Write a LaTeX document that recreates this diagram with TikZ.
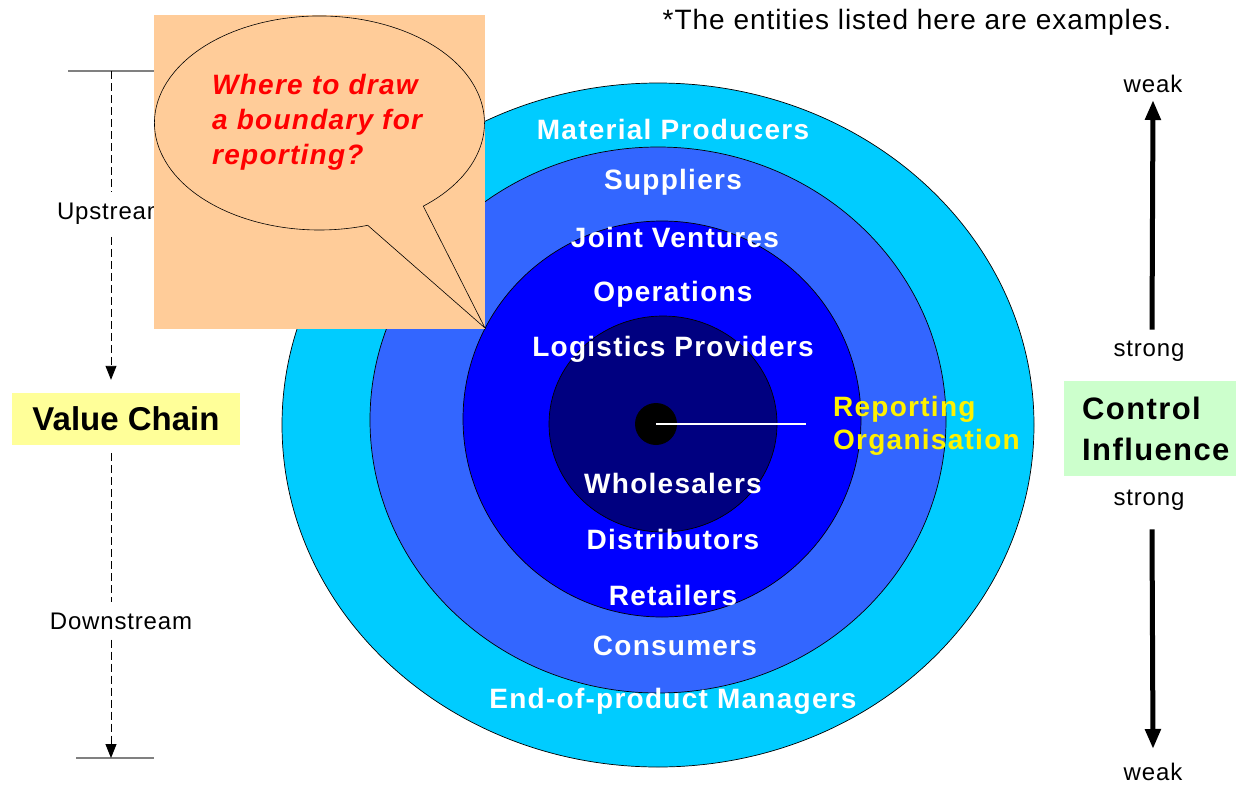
\documentclass[tikz,border=0pt]{standalone}
\usepackage{fontspec}
\setmainfont{Liberation Sans}
\newfontfamily\spaced[LetterSpace=4.5]{Liberation Sans}
\newfontfamily\spacedlight[LetterSpace=3.5]{Liberation Sans}
\usetikzlibrary{arrows.meta}
\definecolor{ringA}{HTML}{00CCFF}
\definecolor{ringB}{HTML}{3366FF}
\definecolor{ringC}{HTML}{0000FF}
\definecolor{ringD}{HTML}{000080}
\definecolor{peach}{HTML}{FFCC99}
\definecolor{paleyellow}{HTML}{FFFF99}
\definecolor{palegreen}{HTML}{CCFFCC}
\definecolor{hline}{HTML}{808080}
\tikzset{
  ring/.style={draw=black, line width=0.7pt},
  ringlabel/.style={text=white, font=\spaced\fontsize{28}{32}\selectfont\bfseries, inner sep=0pt},
  smalltext/.style={font=\spacedlight\fontsize{24}{28}\selectfont, inner sep=2pt},
  dashconn/.style={dash pattern=on 8pt off 4pt, line width=0.9pt, -{Triangle[width=11pt,length=14pt]}},
  dashplain/.style={dash pattern=on 8pt off 4pt, line width=0.9pt},
  thickarrow/.style={line width=5pt, -{Triangle[width=15pt,length=20pt]}},
  endline/.style={draw=hline, line width=1.5pt},
}
\begin{document}
\begin{tikzpicture}[x=1pt,y=-1pt]
\useasboundingbox (0,0) rectangle (1236,787);

% rings
\draw[ring, fill=ringA] (658,425) ellipse [x radius=376, y radius=342];
\draw[ring, fill=ringB] (658,420) ellipse [x radius=288, y radius=273];
\draw[ring, fill=ringC] (662,419) ellipse [x radius=199, y radius=198];
\draw[ring, fill=ringD] (663,424) ellipse [x radius=114, y radius=108];
\node[circle, fill=black, minimum size=42pt, inner sep=0pt] (core) at (656,424) {};
\coordinate (lineend) at (806,424);
\draw[white, line width=1.2pt] (core.center) -- (lineend);

% ring labels
\node[ringlabel] (mp) at (673,129) {Material Producers};
\node[ringlabel] (su) at (673,182) {Suppliers};
\node[ringlabel] (jv) at (675,237) {Joint Ventures};
\node[ringlabel] (op) at (673,294) {Operations};
\node[ringlabel] (lp) at (673,349) {Logistics Providers};
\node[ringlabel] (wh) at (673,483) {Wholesalers};
\node[ringlabel] (di) at (673,539) {Distributors};
\node[ringlabel] (re) at (673,595) {Retailers};
\node[ringlabel] (co) at (675,646) {Consumers};
\node[ringlabel] (ep) at (673,701) {End-of-product Managers};
\node[ringlabel, text=yellow, anchor=west, align=left, font=\spaced\fontsize{28}{33}\selectfont\bfseries] (ro) at (833,426) {Reporting\\Organisation};

% top note
\node[font=\spacedlight\fontsize{28}{32}\selectfont, inner sep=0pt] (note) at (917,22) {*The entities listed here are examples.};

% left value chain
\coordinate (vtop) at (111,71);
\coordinate (vbot) at (111,758);
\coordinate (htl) at (68,71);
\coordinate (htr) at (160,71);
\coordinate (hbl) at (76,758);
\coordinate (hbr) at (154,758);
\draw[endline] (htl) -- (htr);
\draw[endline] (hbl) -- (hbr);
\node[smalltext, inner ysep=12pt] (up) at (112,214) {Upstream};
\node[fill=paleyellow, minimum width=228pt, minimum height=52pt, inner sep=0pt, font=\fontsize{33}{36}\selectfont\bfseries] (vc) at (126,419) {Value Chain};
\node[smalltext, inner ysep=10pt] (down) at (121,621) {Downstream};
\draw[dashplain] (vtop) -- (up.north -| vtop);
\draw[dashconn] (up.south -| vtop) -- ([yshift=13pt]vc.north -| vtop);
\draw[dashplain] ([yshift=-8pt]vc.south -| vtop) -- (down.north -| vtop);
\draw[dashconn] (down.south -| vtop) -- (vbot);

% callout
\fill[peach] (154,15) rectangle (485,329);
\coordinate (tip) at (485,328);
\draw[fill=peach, line width=0.6pt] (367.7,225.3) arc[start angle=73, end angle=411, x radius=165, y radius=107] -- (tip) -- cycle;
\node[text=red, font=\spaced\fontsize{28}{35}\selectfont\bfseries\itshape, anchor=west, align=left, inner sep=0pt] (q) at (212,122) {Where to draw\\a boundary for\\reporting?};

% right control influence
\node[smalltext] (weak1) at (1153,84) {weak};
\node[smalltext] (strong1) at (1149,351) {strong};
\node[fill=palegreen, anchor=north west, text width=136pt, inner xsep=18pt, minimum height=95pt, align=left, font=\spaced\fontsize{31}{41}\selectfont\bfseries] (ci) at (1064,381) {Control\\Influence};
\node[smalltext] (strong2) at (1149,500) {strong};
\node[smalltext] (weak2) at (1153,772) {weak};
\coordinate (a1s) at (1152,330);
\coordinate (a2e) at (1152,746);
\draw[thickarrow] (strong1.north -| a1s) ++(0,-9) -- ([yshift=-5pt]weak1.south);
\draw[thickarrow] (strong2.south -| a1s) ++(0,17) -- ([yshift=12pt]weak2.north);
\end{tikzpicture}
\end{document}
